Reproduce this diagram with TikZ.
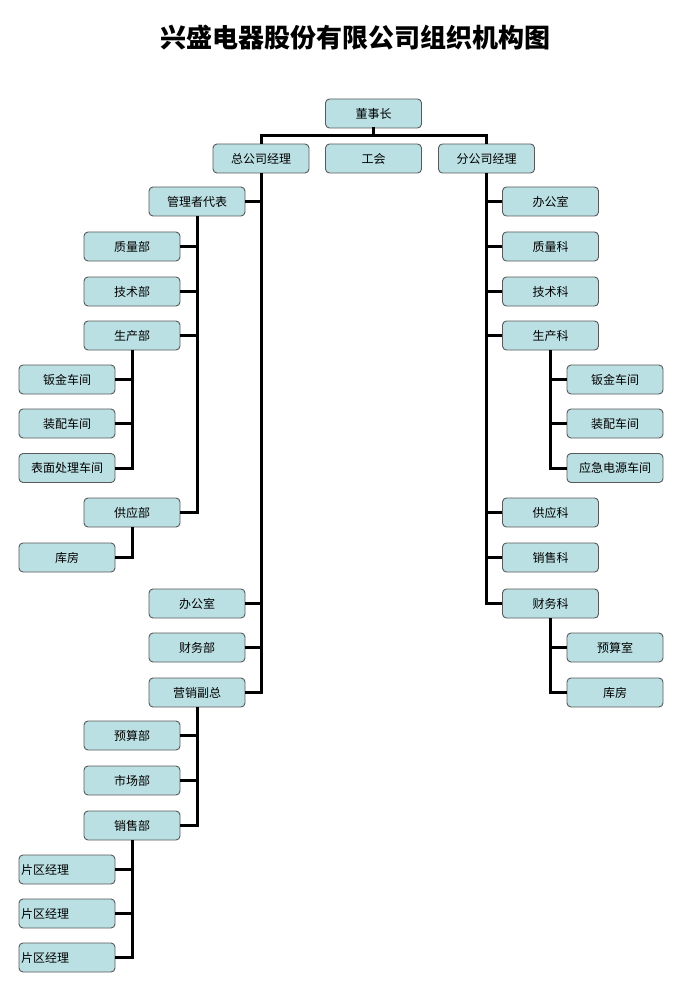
\documentclass[tikz,border=0pt]{standalone}
\usepackage{fontspec}
\setmainfont{Noto Sans CJK SC}
\begin{document}
\begin{tikzpicture}[x=1pt,y=-1pt,
  box/.style={draw=black!65, line width=0.9pt, fill={rgb,255:red,187;green,224;blue,227}, rounded corners=4pt,
    minimum width=96pt, minimum height=29pt, inner sep=0pt, font=\fontsize{12}{14}\selectfont},
  lbox/.style={box, text width=92pt, align=left, inner xsep=2pt},
  conn/.style={line width=3pt, line cap=rect}]
\useasboundingbox (0,0) rectangle (700,1000);
\node[font=\fontsize{26}{30}\selectfont\bfseries] (title) at (355,38) {兴盛电器股份有限公司组织机构图};
% top
\node[box] (dsz) at (373.5,113.5) {董事长};
\node[box] (zg) at (261,158.5) {总公司经理};
\node[box] (gh) at (373.5,158.5) {工会};
\node[box] (fg) at (486.5,158.5) {分公司经理};
\coordinate (top) at (373.5,136);
\draw[conn] (dsz.south) -- (top);
\draw[line width=3pt] (zg.north) |- (top) -| (fg.north);
% left branch
\node[box] (glz) at (197,201.5) {管理者代表};
\node[box] (zlb) at (132,246.5) {质量部};
\node[box] (jsb) at (132,291.5) {技术部};
\node[box] (scb) at (132,335.5) {生产部};
\node[box] (bj1) at (67,379.5) {钣金车间};
\node[box] (zp1) at (67,423.5) {装配车间};
\node[box] (bm1) at (67,468) {表面处理车间};
\node[box] (gyb) at (132,512.5) {供应部};
\node[box] (kf1) at (67,557.5) {库房};
\node[box] (bgs1) at (197,603.5) {办公室};
\node[box] (cwb) at (197,647.5) {财务部};
\node[box] (yxfz) at (197,692.5) {营销副总};
\node[box] (ysb) at (132,735.5) {预算部};
\node[box] (scb2) at (132,780.5) {市场部};
\node[box] (xsb) at (132,825.5) {销售部};
\node[lbox] (pq1) at (67,869.5) {片区经理};
\node[lbox] (pq2) at (67,913.5) {片区经理};
\node[lbox] (pq3) at (67,957.5) {片区经理};
% right branch
\node[box] (bgs2) at (550.5,201.5) {办公室};
\node[box] (zlk) at (550.5,246.5) {质量科};
\node[box] (jsk) at (550.5,291.5) {技术科};
\node[box] (sck) at (550.5,335.5) {生产科};
\node[box] (bj2) at (615,379.5) {钣金车间};
\node[box] (zp2) at (615,423.5) {装配车间};
\node[box] (yj2) at (615,468) {应急电源车间};
\node[box] (gyk) at (550.5,512.5) {供应科};
\node[box] (xsk) at (550.5,557.5) {销售科};
\node[box] (cwk) at (550.5,603.5) {财务科};
\node[box] (yss) at (615,647.5) {预算室};
\node[box] (kf2) at (615,692.5) {库房};
% left connectors
\begin{scope}[line width=3pt]
\draw (zg.south) -- (yxfz.east -| zg.south) -- (yxfz.east);
\foreach \n in {glz,bgs1,cwb} \draw (\n.east) -- (\n.east -| zg.south);
\draw (glz.south) -- (gyb.east -| glz.south) -- (gyb.east);
\foreach \n in {zlb,jsb,scb} \draw (\n.east) -- (\n.east -| glz.south);
\draw (scb.south) -- (bm1.east -| scb.south) -- (bm1.east);
\foreach \n in {bj1,zp1} \draw (\n.east) -- (\n.east -| scb.south);
\draw (gyb.south) -- (kf1.east -| gyb.south) -- (kf1.east);
\draw (yxfz.south) -- (xsb.east -| yxfz.south) -- (xsb.east);
\foreach \n in {ysb,scb2} \draw (\n.east) -- (\n.east -| yxfz.south);
\draw (xsb.south) -- (pq3.east -| xsb.south) -- (pq3.east);
\foreach \n in {pq1,pq2} \draw (\n.east) -- (\n.east -| xsb.south);
% right connectors
\draw (fg.south) -- (cwk.west -| fg.south) -- (cwk.west);
\foreach \n in {bgs2,zlk,jsk,sck,gyk,xsk} \draw (\n.west) -- (\n.west -| fg.south);
\draw (sck.south) -- (yj2.west -| sck.south) -- (yj2.west);
\foreach \n in {bj2,zp2} \draw (\n.west) -- (\n.west -| sck.south);
\draw (cwk.south) -- (kf2.west -| cwk.south) -- (kf2.west);
\draw (yss.west) -- (yss.west -| cwk.south);
\end{scope}
\end{tikzpicture}
\end{document}
